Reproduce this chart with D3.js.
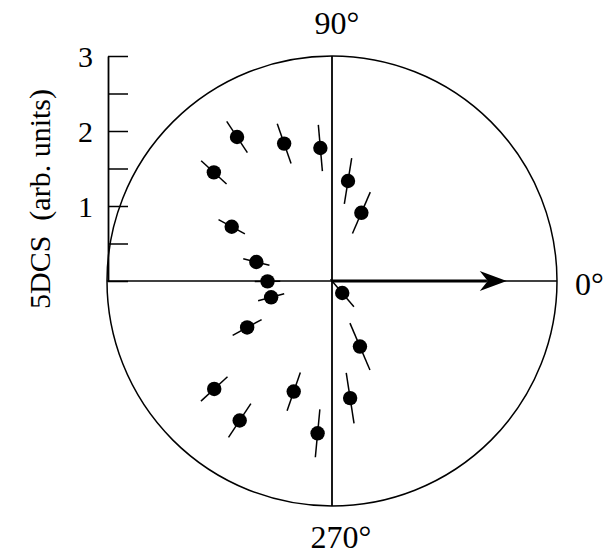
<!DOCTYPE html>
<html>
<head>
<meta charset="utf-8">
<script src="https://cdn.jsdelivr.net/npm/d3@7"></script>
<style>
  body { margin: 0; background: #fff; }
  text { font-family: "Liberation Serif", "Times New Roman", serif; fill: #000; }
</style>
</head>
<body>
<div id="chart"></div>
<script>
// polar data: angle (deg), 5DCS magnitude (arb. units), radial error
const angles     = [66.7, 80.9, 95.0, 109.2, 123.4, 137.4, 151.6, 165.9, 180.3,
                    195.0, 208.7, 222.5, 236.5, 250.9, 264.6, 278.8, 293.1, 310.5];
const magnitudes = [0.99, 1.35, 1.78, 1.94, 2.30, 2.14, 1.52, 1.04, 0.86,
                    0.84, 1.29, 2.13, 2.23, 1.56, 2.04, 1.58, 0.95, 0.21];
const errors     = [0.30, 0.31, 0.31, 0.28, 0.25, 0.23, 0.20, 0.18, 0.17,
                    0.18, 0.22, 0.24, 0.27, 0.27, 0.32, 0.34, 0.34, 0.24];

const radialTicks = [0, 0.5, 1, 1.5, 2, 2.5, 3];
const tickLabels  = ["", "", "1", "", "2", "", "3"];
const labelAngles = [0, 90, 270];
const labelTexts  = ["0°", "90°", "270°"];
const arrowVector = [0, 2.33];   // angle, magnitude
const yTitle = "5DCS  (arb. units)";

const width = 610, height = 554;
const cx = 332, cy = 281, R = 225;

const r = d3.scaleLinear().domain([0, 3]).range([0, R]);
const y = d3.scaleLinear().domain([0, 3]).range([cy, cy - R]);
const rad = a => a * Math.PI / 180;
const px = (a, v) => cx + r(v) * Math.cos(rad(a));
const py = (a, v) => cy - r(v) * Math.sin(rad(a));

const svg = d3.select('#chart').append('svg')
              .attr('width', width)
              .attr('height', height);

// outer circle
svg.append('circle')
   .attr('cx', cx).attr('cy', cy).attr('r', r(3))
   .attr('fill', 'none').attr('stroke', '#000').attr('stroke-width', 1.5);

// cross lines
svg.append('line')
   .attr('x1', px(180, 3)).attr('y1', cy).attr('x2', px(0, 3)).attr('y2', cy)
   .attr('stroke', '#000').attr('stroke-width', 1.5);
svg.append('line')
   .attr('x1', cx).attr('y1', py(90, 3)).attr('x2', cx).attr('y2', py(270, 3))
   .attr('stroke', '#000').attr('stroke-width', 1.8);

// radial scale on the left
const axis = d3.axisLeft(y)
               .tickValues(radialTicks)
               .tickSizeInner(-20)
               .tickSizeOuter(0)
               .tickPadding(15)
               .tickFormat((d, i) => tickLabels[i]);

const ax = svg.append('g')
              .attr('transform', `translate(${px(180, 3) + 1},0)`)
              .call(axis)
              .attr('font-family', null)
              .attr('font-size', 30);
ax.select('.domain').attr('stroke-width', 1.8);
ax.selectAll('.tick line').attr('stroke-width', 1.5);
ax.selectAll('.tick text').attr('dy', '0.34em');

// axis title
svg.append('text')
   .attr('transform', 'translate(50,199) rotate(-90)')
   .attr('text-anchor', 'middle')
   .attr('font-size', 30)
   .style('white-space', 'pre')
   .text(yTitle);

// angle labels
const labelPos = {
    0:   { dx: 18, dy: 14, anchor: 'start' },
    90:  { dx: 5, dy: -22, anchor: 'middle' },
    270: { dx: 9, dy: 42, anchor: 'middle' }
};
svg.selectAll('.alabel')
   .data(labelAngles)
   .enter().append('text')
   .attr('class', 'alabel')
   .attr('x', (d) => px(d, 3) + labelPos[d].dx)
   .attr('y', (d) => py(d, 3) + labelPos[d].dy)
   .attr('text-anchor', (d) => labelPos[d].anchor)
   .attr('font-size', 32)
   .text((d, i) => labelTexts[i]);

// arrow
const [aA, aM] = arrowVector;
const tipX = px(aA, aM), tipY = py(aA, aM);
svg.append('line')
   .attr('x1', cx).attr('y1', cy).attr('x2', tipX - 20).attr('y2', tipY)
   .attr('stroke', '#000').attr('stroke-width', 3.2);
svg.append('path')
   .attr('d', `M${tipX},${tipY} L${tipX - 27},${tipY - 10} L${tipX - 19},${tipY} L${tipX - 27},${tipY + 10} Z`)
   .attr('fill', '#000');

// data points
const pts = angles.map((a, i) => ({ a, v: magnitudes[i], e: errors[i] }));

svg.selectAll('.err')
   .data(pts)
   .enter().append('line')
   .attr('class', 'err')
   .attr('x1', (d) => px(d.a, d.v - d.e))
   .attr('y1', (d) => py(d.a, d.v - d.e))
   .attr('x2', (d) => px(d.a, d.v + d.e))
   .attr('y2', (d) => py(d.a, d.v + d.e))
   .attr('stroke', '#000')
   .attr('stroke-width', 1.5);

svg.selectAll('.dot')
   .data(pts)
   .enter().append('circle')
   .attr('class', 'dot')
   .attr('cx', (d) => px(d.a, d.v))
   .attr('cy', (d) => py(d.a, d.v))
   .attr('r', 7.2)
   .attr('fill', '#000');
</script>
</body>
</html>
